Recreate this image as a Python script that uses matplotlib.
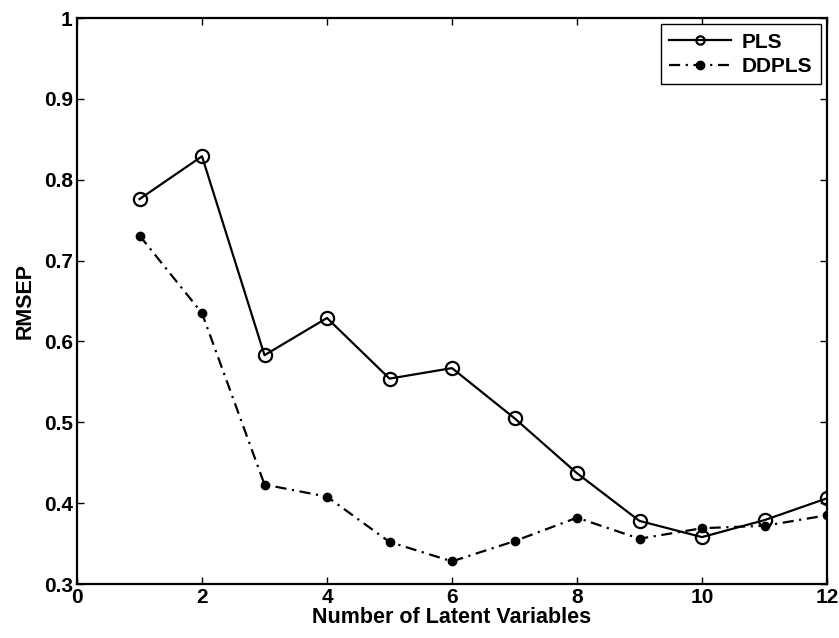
import matplotlib
matplotlib.use("Agg")
import matplotlib.pyplot as plt

plt.rcParams['font.family'] = ['Liberation Sans', 'DejaVu Sans']
plt.rcParams['font.weight'] = 'bold'

lv = [1, 2, 3, 4, 5, 6, 7, 8, 9, 10, 11, 12]
pls = [0.776, 0.829, 0.583, 0.629, 0.554, 0.567, 0.505, 0.437, 0.378, 0.358, 0.379, 0.406]
ddpls = [0.731, 0.635, 0.423, 0.408, 0.352, 0.328, 0.353, 0.382, 0.356, 0.369, 0.372, 0.385]
xticks = [0, 2, 4, 6, 8, 10, 12]
yticks = [0.3, 0.4, 0.5, 0.6, 0.7, 0.8, 0.9, 1.0]
ytick_labels = ['0.3', '0.4', '0.5', '0.6', '0.7', '0.8', '0.9', '1']

fig = plt.figure(figsize=(8.39, 6.38), dpi=100)
ax = fig.add_axes([77/839, 54/638, 750/839, 566/638])

ax.plot(lv, pls, '-', color='black', lw=1.6, marker='o', ms=9.5,
        mfc='none', mec='black', mew=1.6, label='PLS')
ax.plot(lv, ddpls, color='black', lw=1.6, dashes=(5, 2.5, 1, 2.5), marker='o', ms=6,
        mfc='black', mec='black', label='DDPLS')

ax.set_xlim(0, 12)
ax.set_ylim(0.3, 1.0)
ax.set_xticks(xticks)
ax.set_yticks(yticks)
ax.set_yticklabels(ytick_labels)
ax.tick_params(direction='in', length=5, width=1, top=True, right=True,
               labelsize=15, pad=3)
for lab in ax.get_xticklabels() + ax.get_yticklabels():
    lab.set_fontweight('bold')
for s in ax.spines.values():
    s.set_linewidth(1.6)

ax.set_xlabel('Number of Latent Variables', fontsize=15.5, fontweight='bold', labelpad=0)
ax.set_ylabel('RMSEP', fontsize=15.5, fontweight='bold', labelpad=6)

leg = ax.legend(loc='upper right', frameon=True, fancybox=False,
                edgecolor='black', framealpha=1, borderpad=0.4, handlelength=3.0,
                handletextpad=0.5, borderaxespad=0.3, labelspacing=0.25,
                prop={'weight': 'bold', 'size': 15})
leg.get_frame().set_linewidth(1.0)
for h in leg.legend_handles:
    h.set_markersize(6)

fig.savefig('out.png', dpi=100)
